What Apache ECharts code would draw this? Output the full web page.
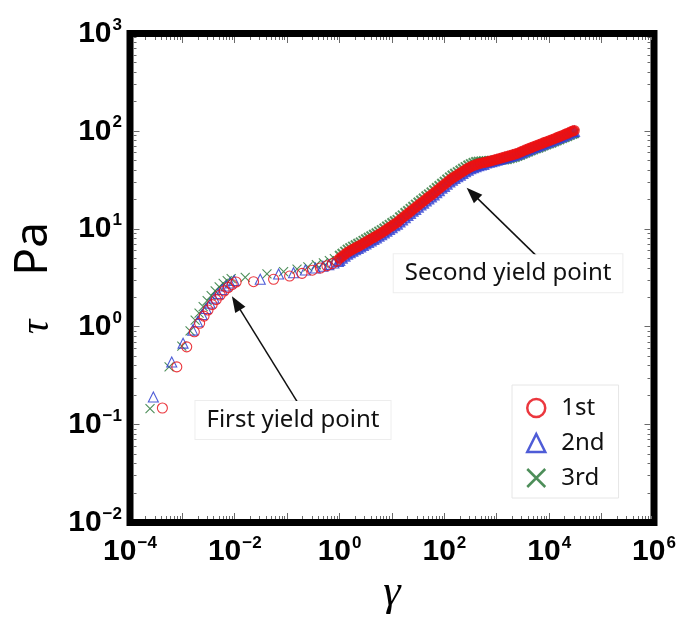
<!DOCTYPE html>
<html>
<head>
<meta charset="utf-8">
<script src="https://cdn.jsdelivr.net/npm/echarts@6/dist/echarts.min.js"></script>
<style>
  html, body { margin: 0; padding: 0; background: #fff; }
  #chart { width: 682px; height: 625px; }
</style>
</head>
<body>
<div id="chart"></div>
<script>
// ---- Shear stress tau (Pa) against strain gamma, three repeated runs ----

// Sparse part of each run (before and around the first yield point)
const gamma1Low = [4.15e-4, 7.82e-4, 1.21e-3, 1.69e-3, 2.13e-3, 2.59e-3, 3.08e-3, 3.70e-3, 4.41e-3, 5.26e-3, 6.27e-3, 7.48e-3, 8.91e-3, 1.06e-2, 2.28e-2, 5.50e-2, 0.111, 0.192, 0.302, 0.430, 0.572, 0.728, 0.887];
const tau1Low   = [0.148, 0.390, 0.625, 0.891, 1.09, 1.29, 1.49, 1.69, 1.90, 2.12, 2.33, 2.53, 2.71, 2.88, 2.90, 3.07, 3.31, 3.53, 3.80, 4.00, 4.22, 4.45, 4.70];

const gamma2Low = [2.79e-4, 6.26e-4, 1.03e-3, 1.57e-3, 1.95e-3, 2.38e-3, 2.84e-3, 3.39e-3, 4.04e-3, 4.82e-3, 5.74e-3, 6.85e-3, 8.17e-3, 9.73e-3, 3.06e-2, 6.86e-2, 0.132, 0.222, 0.344, 0.480, 0.624, 0.778, 0.948];
const tau2Low   = [0.192, 0.438, 0.682, 0.927, 1.13, 1.34, 1.54, 1.75, 1.97, 2.19, 2.41, 2.62, 2.81, 2.98, 3.07, 3.48, 3.58, 3.82, 4.00, 4.17, 4.33, 4.50, 4.68];

const gamma3Low = [2.41e-4, 5.57e-4, 9.75e-4, 1.40e-3, 1.75e-3, 2.08e-3, 2.49e-3, 2.97e-3, 3.54e-3, 4.22e-3, 5.03e-3, 6.00e-3, 7.16e-3, 8.53e-3, 1.58e-2, 4.11e-2, 8.53e-2, 0.154, 0.248, 0.360, 0.490, 0.638, 0.794];
const tau3Low   = [0.146, 0.390, 0.635, 0.912, 1.17, 1.38, 1.61, 1.86, 2.09, 2.33, 2.56, 2.78, 2.98, 3.12, 3.21, 3.48, 3.67, 3.89, 4.10, 4.32, 4.52, 4.75, 4.98];

// Dense part (flow region up to the end of the test), shared strain values
const gammaBand = [
  1.00, 1.12, 1.26, 1.41, 1.58, 1.78, 2.00, 2.24, 2.51, 2.82, 3.16, 3.55, 3.98, 4.47, 5.01, 5.62, 6.31, 7.08, 7.94, 8.91,
  10.0, 11.2, 12.6, 14.1, 15.8, 17.8, 20.0, 22.4, 25.1, 28.2, 31.6, 35.5, 39.8, 44.7, 50.1, 56.2, 63.1, 70.8, 79.4, 89.1,
  100, 112, 126, 141, 158, 178, 200, 224, 251, 282, 316, 355, 398, 447, 501, 562, 631, 708, 794, 891,
  1000, 1120, 1260, 1410, 1580, 1780, 2000, 2240, 2510, 2820, 3160, 3550, 3980, 4470, 5010, 5620, 6310, 7080, 7940, 8910,
  10000, 11200, 12600, 14100, 15800, 17800, 20000, 22400, 25100, 28200, 30200
];
const tau1Band = [
  5.01, 5.26, 5.52, 5.79, 6.00, 6.21, 6.43, 6.64, 6.87, 7.11, 7.38, 7.64, 7.93, 8.20, 8.51, 8.83, 9.16, 9.55, 9.95, 10.4,
  10.8, 11.3, 11.7, 12.4, 13.0, 13.7, 14.4, 15.1, 15.9, 16.7, 17.5, 18.4, 19.3, 20.3, 21.3, 22.3, 23.4, 24.7, 25.9, 27.3,
  28.6, 30.1, 31.7, 33.1, 34.5, 35.9, 37.3, 38.8, 40.4, 41.9, 43.3, 44.5, 45.5, 46.5, 47.2, 47.9, 48.5, 49.3, 50.1, 50.9,
  51.8, 52.6, 53.5, 54.5, 55.5, 56.5, 57.5, 58.6, 59.8, 61.4, 63.0, 64.6, 66.2, 67.9, 69.7, 71.3, 72.9, 74.6, 76.6, 78.3,
  80.2, 82.0, 84.1, 86.3, 88.5, 90.8, 93.1, 95.5, 98.2, 100.7, 102
];
const tau2Band = [
  4.78, 5.02, 5.27, 5.53, 5.73, 5.93, 6.14, 6.34, 6.56, 6.79, 7.05, 7.30, 7.57, 7.83, 8.13, 8.43, 8.75, 9.12, 9.50, 9.93,
  10.3, 10.8, 11.2, 11.8, 12.4, 13.1, 13.8, 14.4, 15.2, 15.9, 16.7, 17.6, 18.4, 19.4, 20.3, 21.3, 22.3, 23.6, 24.7, 26.1,
  27.3, 28.7, 30.3, 31.6, 32.9, 34.3, 35.6, 37.1, 38.6, 40.0, 41.4, 42.5, 43.5, 44.4, 45.1, 45.7, 47.4, 48.2, 48.9, 49.7,
  50.6, 51.4, 52.3, 53.2, 54.2, 55.2, 56.2, 57.3, 58.4, 60.0, 61.6, 63.1, 64.7, 66.3, 68.1, 69.7, 71.2, 72.9, 74.8, 76.5,
  78.4, 80.1, 82.2, 84.3, 86.5, 88.7, 91.0, 93.3, 95.9, 98.4, 99.7
];
const tau3Band = [
  5.37, 5.64, 5.92, 6.21, 6.43, 6.66, 6.89, 7.12, 7.36, 7.62, 7.91, 8.19, 8.50, 8.79, 9.12, 9.47, 9.82, 10.2, 10.7, 11.1,
  11.6, 12.1, 12.5, 13.3, 13.9, 14.7, 15.4, 16.2, 17.0, 17.9, 18.8, 19.7, 20.7, 21.8, 22.8, 23.9, 25.1, 26.5, 27.8, 29.3,
  30.7, 32.3, 34.0, 35.5, 37.0, 38.5, 40.0, 41.6, 43.3, 44.9, 46.4, 47.7, 48.8, 49.2, 49.4, 49.6, 49.6, 49.9, 50.1, 50.3,
  50.6, 50.8, 51.1, 51.4, 51.8, 52.7, 53.6, 54.7, 55.8, 57.3, 58.8, 60.3, 61.8, 63.4, 65.0, 66.5, 68.0, 69.6, 71.5, 73.1,
  74.8, 76.5, 78.5, 80.5, 82.6, 84.7, 86.9, 89.1, 91.6, 94.0, 95.2
];

const seriesNames = ['1st', '2nd', '3rd'];

// Axis decades and the exponents that carry a label
const xDecades = [-4, -3, -2, -1, 0, 1, 2, 3, 4, 5, 6];
const yDecades = [-2, -1, 0, 1, 2, 3];
const xLabelExponents = [-4, -2, 0, 2, 4, 6];
const yLabelExponents = [-2, -1, 0, 1, 2, 3];

// Annotations: [gamma, tau] anchors
const note1Text = 'First yield point';
const note1At = [0.129, 0.112];
const arrow1From = [0.175, 0.155];
const arrow1To = [1.06e-2, 1.75];
const note2Text = 'Second yield point';
const note2At = [1640, 3.53];
const arrow2From = [6110, 5.14];
const arrow2To = [342, 23.2];

// ---- styling ----
const RED = '#e8141c', BLUE = '#2f3fd0', GREEN = '#2e7a3c';
const BORDER = 7;
const TICK = '#6a6a6a';
const CROSS = 'path://M0,0L10,10M0,10L10,0';

function pairs(xs, ys) { return xs.map((x, i) => [x, ys[i]]); }

function powerLabel(v, allowed) {
  const e = Math.round(Math.log10(v));
  if (allowed.indexOf(e) < 0) return '';
  const exp = e < 0 ? '\u2212' + (-e) : String(e);
  return '{b|10}{s|' + exp + '}';
}

const labelRich = {
  b: { fontFamily: 'Liberation Sans', fontWeight: 'bold', fontSize: 30, lineHeight: 34, color: '#000' },
  s: { fontFamily: 'Liberation Sans', fontWeight: 'bold', fontSize: 17, lineHeight: 17, verticalAlign: 'top', color: '#000', padding: [0, 0, 0, 1] }
};

// Tick positions (major at decades, minor at 2..9 times each decade)
function tickRows(decades) {
  const rows = [];
  for (let i = 0; i < decades.length; i++) {
    const base = Math.pow(10, decades[i]);
    if (i > 0 && i < decades.length - 1) rows.push([base, 6]);
    if (i < decades.length - 1) {
      for (let k = 2; k <= 9; k++) rows.push([k * base, 3]);
    }
  }
  return rows;
}
const xTicks = tickRows(xDecades).map(r => [r[0], 1, r[1]]);
const yTicks = tickRows(yDecades).map(r => [1, r[0], r[1]]);

function snap(v) { return Math.round(v - 0.5) + 0.5; }

function xTickItem(params, api) {
  const cs = params.coordSys;
  const x = snap(api.coord([api.value(0), 1])[0]);
  const len = api.value(2);
  const top = cs.y + BORDER / 2, bottom = cs.y + cs.height - BORDER / 2;
  const st = { stroke: TICK, lineWidth: 1 };
  return { type: 'group', children: [
    { type: 'line', shape: { x1: x, y1: bottom, x2: x, y2: bottom - len }, style: st },
    { type: 'line', shape: { x1: x, y1: top, x2: x, y2: top + len }, style: st }
  ] };
}
function yTickItem(params, api) {
  const cs = params.coordSys;
  const y = snap(api.coord([1, api.value(1)])[1]);
  const len = api.value(2);
  const left = cs.x + BORDER / 2, right = cs.x + cs.width - BORDER / 2;
  const st = { stroke: TICK, lineWidth: 1 };
  return { type: 'group', children: [
    { type: 'line', shape: { x1: left, y1: y, x2: left + len, y2: y }, style: st },
    { type: 'line', shape: { x1: right, y1: y, x2: right - len, y2: y }, style: st }
  ] };
}

const noteLabel = {
  show: true, position: 'inside', formatter: '{b}',
  fontFamily: 'Noto Sans', fontSize: 24, color: '#111',
  backgroundColor: '#fff', borderColor: 'rgba(0,0,0,0.07)', borderWidth: 1,
  padding: [7, 11]
};

const chart = echarts.init(document.getElementById('chart'), null, { renderer: 'canvas' });

chart.setOption({
  animation: false,
  backgroundColor: '#fff',
  grid: {
    left: 130, top: 33.5, width: 524, height: 489,
    show: true, borderColor: '#000', borderWidth: BORDER, backgroundColor: '#fff'
  },
  xAxis: {
    type: 'log', min: 1e-4, max: 1e6, splitNumber: 10,
    axisLine: { show: false }, axisTick: { show: false }, splitLine: { show: false },
    axisLabel: { margin: 12, formatter: v => powerLabel(v, xLabelExponents), rich: labelRich },
    name: 'γ', nameLocation: 'middle', nameGap: 48,
    nameTextStyle: { fontFamily: 'Liberation Serif', fontStyle: 'italic', fontSize: 44, color: '#000' }
  },
  yAxis: {
    type: 'log', min: 0.01, max: 1000, splitNumber: 5,
    axisLine: { show: false }, axisTick: { show: false }, splitLine: { show: false },
    axisLabel: { margin: 8, formatter: v => powerLabel(v, yLabelExponents), rich: labelRich },
    name: '{t|τ}{p|Pa}', nameLocation: 'middle', nameGap: 71, nameRotate: 90,
    nameTextStyle: {
      rich: {
        t: { fontFamily: 'Liberation Serif', fontStyle: 'italic', fontSize: 40, lineHeight: 40, verticalAlign: 'bottom', color: '#000' },
        p: { fontFamily: 'Noto Sans', fontSize: 46, lineHeight: 46, verticalAlign: 'bottom', color: '#000', padding: [0, 0, 0, 44] }
      }
    }
  },
  legend: {
    data: seriesNames,
    orient: 'vertical', left: 512, top: 385,
    itemWidth: 18, itemHeight: 18, itemGap: 11,
    padding: [11, 14, 8, 14],
    backgroundColor: '#fff', borderColor: '#e6e6e6', borderWidth: 1,
    itemStyle: { borderWidth: 2.5 },
    textStyle: { fontFamily: 'Noto Sans', fontSize: 24, lineHeight: 24, color: '#111', padding: [0, 0, 0, 11] }
  },
  series: [
    { name: '1st', type: 'scatter', z: 5, symbol: 'circle', symbolSize: 10,
      itemStyle: { color: 'transparent', borderColor: RED, borderWidth: 1.1, opacity: 0.85 },
      data: pairs(gamma1Low, tau1Low) },
    { name: '2nd', type: 'scatter', z: 4, symbol: 'triangle', symbolSize: 10,
      itemStyle: { color: 'transparent', borderColor: BLUE, borderWidth: 1.1, opacity: 0.85 },
      data: pairs(gamma2Low, tau2Low) },
    { name: '3rd', type: 'scatter', z: 3, symbol: CROSS, symbolSize: 9,
      itemStyle: { color: 'transparent', borderColor: GREEN, borderWidth: 1.1, opacity: 0.85 },
      data: pairs(gamma3Low, tau3Low) },
    { name: '1st', type: 'scatter', z: 5, symbol: 'circle', symbolSize: 8,
      itemStyle: { color: 'transparent', borderColor: '#ee1010', borderWidth: 3 },
      data: pairs(gammaBand, tau1Band) },
    { name: '2nd', type: 'scatter', z: 4, symbol: 'triangle', symbolSize: 9,
      itemStyle: { color: 'transparent', borderColor: BLUE, borderWidth: 2 },
      data: pairs(gammaBand, tau2Band) },
    { name: '3rd', type: 'scatter', z: 3, symbol: CROSS, symbolSize: 9,
      itemStyle: { color: 'transparent', borderColor: GREEN, borderWidth: 2 },
      data: pairs(gammaBand, tau3Band) },
    { name: 'xticks', type: 'custom', silent: true, z: 6, renderItem: xTickItem, data: xTicks },
    { name: 'yticks', type: 'custom', silent: true, z: 6, renderItem: yTickItem, data: yTicks },
    { name: 'notes', type: 'scatter', z: 8, silent: true, data: [],
      markLine: {
        silent: true, animation: false,
        label: { show: false },
        lineStyle: { color: '#111', width: 1.5, type: 'solid' },
        data: [
          [{ coord: arrow1From, symbol: 'none' }, { coord: arrow1To, symbol: 'triangle', symbolSize: [12, 16] }],
          [{ coord: arrow2From, symbol: 'none' }, { coord: arrow2To, symbol: 'triangle', symbolSize: [12, 16] }]
        ]
      },
      markPoint: {
        silent: true, animation: false,
        symbol: 'circle', symbolSize: 1, itemStyle: { color: 'transparent' },
        label: noteLabel,
        data: [
          { name: note1Text, coord: note1At },
          { name: note2Text, coord: note2At }
        ]
      }
    }
  ]
});
</script>
</body>
</html>
